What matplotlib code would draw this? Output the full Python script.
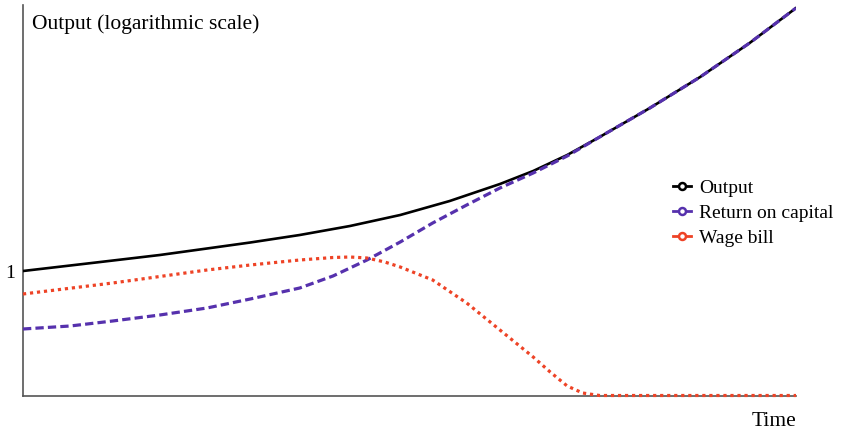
import matplotlib
matplotlib.use("Agg")
import matplotlib.pyplot as plt
from matplotlib.lines import Line2D

plt.rcParams['font.family'] = ['Liberation Serif', 'DejaVu Serif']

# values: time 0..100, y = log output (0 means output of 1)
t_output = [0, 10.0, 17.7, 23.8, 29.4, 35.8, 42.3, 48.8, 55.2, 61.7, 66.0, 70.4, 74.6,
            81.1, 87.6, 94.0, 100]
output = [0.0, 0.09, 0.16, 0.225, 0.285, 0.36, 0.45, 0.56, 0.70, 0.87, 1.00, 1.16, 1.34,
          1.63, 1.94, 2.28, 2.63]

t_capital = [0, 6.1, 11.6, 17.7, 23.8, 29.4, 35.8, 40.1, 44.5, 48.8, 53.0, 57.4, 61.7,
             66.0, 70.4, 74.6, 81.1, 87.6, 94.0, 100]
capital = [-0.58, -0.55, -0.50, -0.44, -0.37, -0.28, -0.17, -0.05, 0.11, 0.29, 0.48, 0.66, 0.83,
           0.98, 1.15, 1.34, 1.63, 1.94, 2.28, 2.63]

t_wage = [0, 11.6, 23.8, 29.4, 35.8, 40.1, 42.3, 44.5, 46.8, 48.8, 53.0, 57.4, 61.7,
          66.0, 68.2, 70.4, 72.4, 74.6, 80, 90, 100]
wage = [-0.23, -0.12, 0.01, 0.06, 0.11, 0.135, 0.14, 0.13, 0.09, 0.04, -0.09, -0.32, -0.59,
        -0.86, -1.01, -1.15, -1.22, -1.245, -1.245, -1.245, -1.245]

labels = ['Output', 'Return on capital', 'Wage bill']
colors = ['black', '#5631ad', '#ee4326']

fig = plt.figure(figsize=(8.48, 4.33), dpi=100)
ax = fig.add_axes([23 / 848, 37 / 433, 773 / 848, 391 / 433])

ax.plot(t_output, output, color=colors[0], lw=1.9, zorder=3)
ax.plot(t_capital, capital, color=colors[1], lw=2.3, ls=(0, (2.6, 1.3)), zorder=4)
ax.plot(t_wage, wage, color=colors[2], lw=2.3, ls=(0, (1.0, 1.2)), dash_capstyle='butt',
        zorder=4, clip_on=False)

ax.set_xlim(0, 100)
ax.set_ylim(-1.25, 2.66)
ax.set_xticks([])
ax.set_yticks([0])
ax.set_yticklabels(['1'], fontsize=14)
ax.tick_params(axis='y', length=0, pad=6)
for s in ['top', 'right']:
    ax.spines[s].set_visible(False)
for s in ['left', 'bottom']:
    ax.spines[s].set_color('#555555')
    ax.spines[s].set_linewidth(1.2)

fig.text(32 / 848, 1 - 24 / 433, 'Output (logarithmic scale)', fontsize=15.5, va='center', ha='left')
fig.text(796 / 848, 1 - 421 / 433, 'Time', fontsize=15.5, va='center', ha='right')

handles = [Line2D([], [], color=c, lw=2, marker='o', mfc='white', mec=c, ms=5, mew=1.8)
           for c in colors]
fig.legend(handles, labels, loc='center left',
           bbox_to_anchor=(663 / 848, 1 - 213 / 433), frameon=False, fontsize=14,
           handlelength=0.95, handletextpad=0.4, labelspacing=0.38, borderpad=0)

fig.savefig('out.png', dpi=100)
